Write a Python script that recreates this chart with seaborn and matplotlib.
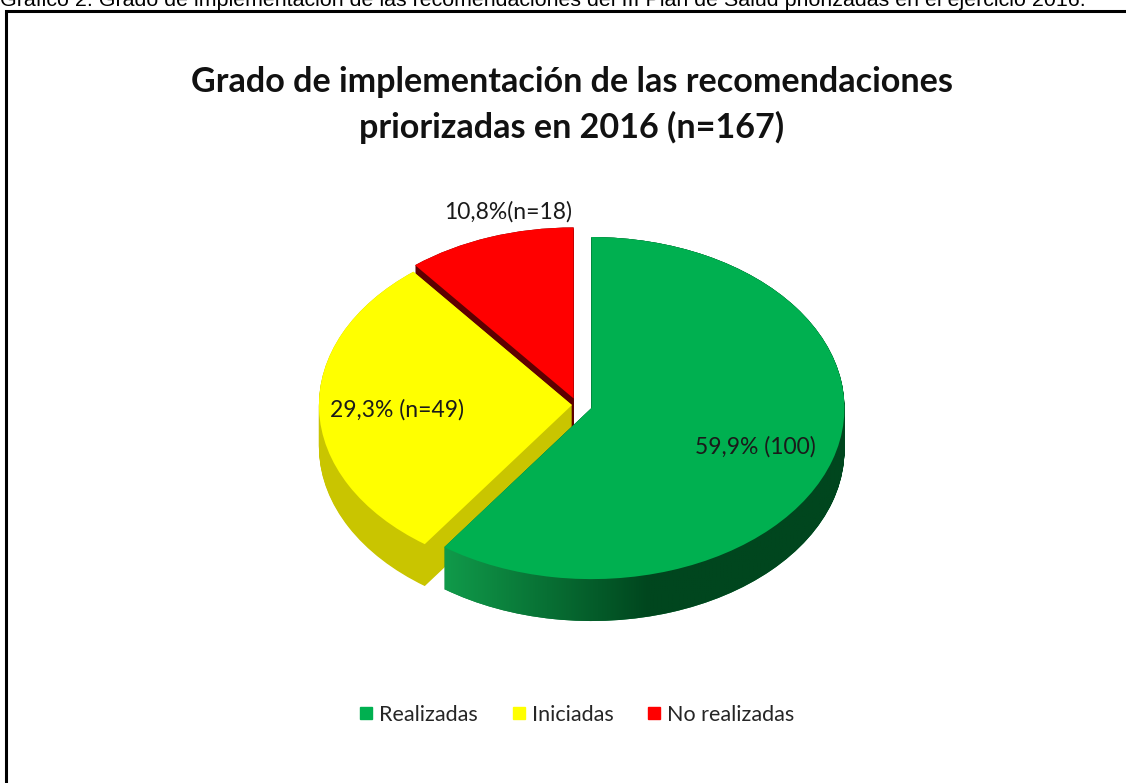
import numpy as np
import matplotlib
matplotlib.use("Agg")
import matplotlib.pyplot as plt
import matplotlib.patches as mpatches
from matplotlib.path import Path
from matplotlib.colors import to_rgb
from matplotlib.lines import Line2D
import seaborn as sns

# ---- data ----
categories = ["Realizadas", "Iniciadas", "No realizadas"]
values = [100, 49, 18]
percent_labels = ["59,9% (100)", "29,3% (n=49)", "10,8%(n=18)"]
title_text = "Grado de implementación de las recomendaciones\npriorizadas en 2016 (n=167)"
header_text = ("Gráfico 2. Grado de implementación de las recomendaciones del III Plan "
               "de Salud priorizadas en el ejercicio 2016.")

# ---- style ----
top_colors = ["#00B050", "#FFFF00", "#FF0000"]
side_colors = ["#087a38", "#c9c500", "#5e0000"]
explode = [0.06, 0.02, 0.04]
label_radius = [0.685, 0.692, 1.12]
label_angle_shift = [-1.6, 0.8, -6]

sns.set_theme(style="white")
plt.rcParams["font.family"] = ["Lato", "DejaVu Sans"]

fig = plt.figure(figsize=(11.26, 7.83), dpi=100)
fig.patch.set_facecolor("white")

ax = fig.add_axes([197.5 / 1126, 104.4 / 783, 759 / 1126, 496 / 783])

depth = 0.245
n_layers = 45
green_side_paths = []
for k in np.linspace(depth, 0.0, n_layers):
    ws, _ = ax.pie(values, explode=explode, startangle=90, counterclock=False,
                   colors=side_colors, center=(0, -k), radius=1.0,
                   wedgeprops=dict(linewidth=0, antialiased=True))
    green_side_paths.append(ws[0].get_path())
wedges, _ = ax.pie(values, explode=explode, startangle=90, counterclock=False,
                   colors=top_colors, center=(0, 0), radius=1.0,
                   wedgeprops=dict(linewidth=0))
for w in wedges:
    w.set_zorder(3)

ax.set_aspect("auto")
ax.set_xlim(-1.5, 1.5)
ax.set_ylim(-1.6, 1.3)
ax.axis("off")

# horizontal shading on the green side wall
xs = np.linspace(-1.5, 1.5, 400)
c_light = np.array(to_rgb("#109a4a"))
c_dark = np.array(to_rgb("#00461e"))
t = np.clip((xs + 0.52) / 0.8, 0, 1)[:, None]
row = c_light * (1 - t) + c_dark * t
img = np.repeat(row[None, :, :], 4, axis=0)
im = ax.imshow(img, extent=(-1.5, 1.5, -1.6, 1.3), aspect="auto", zorder=2,
               interpolation="bilinear")
clip = mpatches.PathPatch(Path.make_compound_path(*green_side_paths),
                          transform=ax.transData, facecolor="none", edgecolor="none")
im.set_clip_path(clip)
ax.set_xlim(-1.5, 1.5)
ax.set_ylim(-1.6, 1.3)

# labels along each wedge's mid angle
for w, lab, r, sh in zip(wedges, percent_labels, label_radius, label_angle_shift):
    mid = np.deg2rad((w.theta1 + w.theta2) / 2 + sh)
    cx, cy = w.center
    ax.text(cx + r * np.cos(mid), cy + r * np.sin(mid), lab, ha="center", va="center",
            fontsize=16.5, color="#1a1a1a", zorder=5)

# title
fig.text(572 / 1126, 1 - 105 / 783, title_text, ha="center", va="center",
         fontsize=24.6, fontweight="bold", color="#111111", linespacing=1.46)

# header (cut at top edge as in the source)
fig.text(0.0, 1 - 5.5 / 783, header_text, ha="left", va="baseline",
         fontsize=15.4, family=["Liberation Sans"], color="black")

# frame
fig.add_artist(mpatches.Rectangle((6 / 1126, -0.1), 1.2, (783 - 11) / 783 + 0.1,
                                  transform=fig.transFigure, fill=False,
                                  edgecolor="black", linewidth=2.2))

# legend
handles = [Line2D([0], [0], marker="s", linestyle="none", markersize=9,
                  markerfacecolor=c, markeredgecolor=c) for c in top_colors]
fig.legend(handles, categories, loc="center", bbox_to_anchor=(576 / 1126, 1 - 715 / 783),
           ncol=3, frameon=False, fontsize=15.5, handletextpad=0.2, columnspacing=1.5,
           handlelength=0.8)

fig.savefig("out.png", dpi=100, facecolor="white")
